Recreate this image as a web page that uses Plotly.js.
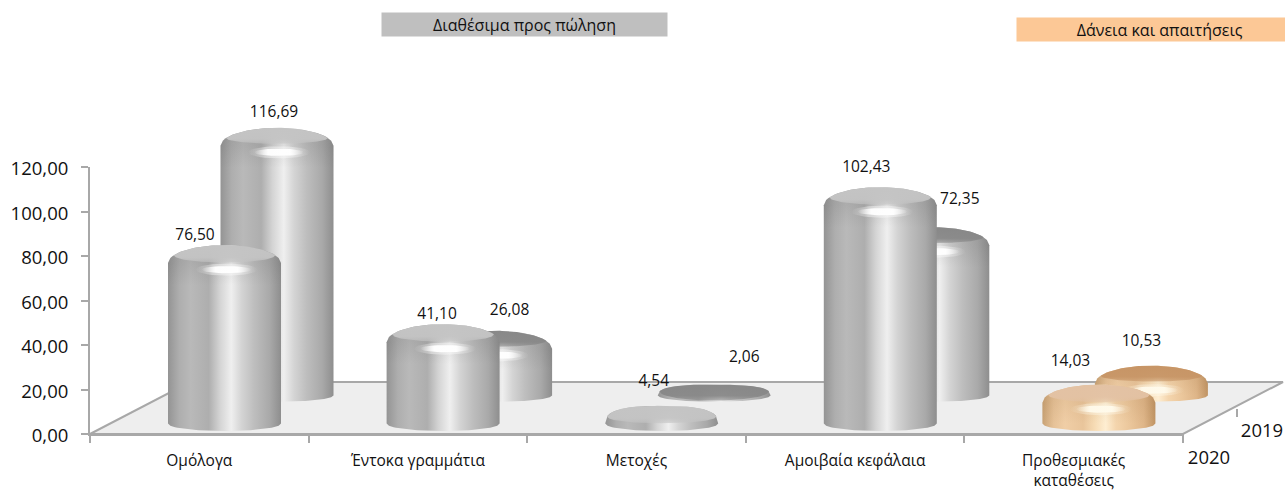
<!DOCTYPE html>
<html><head><meta charset="utf-8">
<script src="https://cdn.plot.ly/plotly-3.0.1.min.js"></script>
<style>html,body{margin:0;padding:0;background:#fff}#c{width:1285px;height:490px}</style>
</head><body><div id="c"></div>
<script>
// ---- data ----
const categories = ['Ομόλογα','Έντοκα γραμμάτια','Μετοχές','Αμοιβαία κεφάλαια','Προθεσμιακές<br>καταθέσεις'];
const values2020 = [76.50, 41.10, 4.54, 102.43, 14.03];
const values2019 = [116.69, 26.08, 2.06, 72.35, 10.53];
const yTicks = [0,20,40,60,80,100,120];
const groupTitles = ['Διαθέσιμα προς πώληση','Δάνεια και απαιτήσεις'];
const depthLabels = ['2020','2019'];

// ---- label nudges, px relative to column top ----
const nudge2020 = [[-29.5,-9],[-6,-9],[-8,-24],[-14,-19],[-28.5,-23]];
const nudge2019 = [[-3,-15],[14,-20],[30,-26],[27,-27],[-10,-23]];

// ---- frame geometry (px on the 1285x490 page) ----
const W=1285,H=490, L=90,R=1183, Y0=434,Y120=167;
const catPx=(R-L)/5, valPx=(Y0-Y120)/120;
const ux=p=>(p-L)/catPx, uy=p=>(Y0-p)/valPx;   // page px -> data units of the overlay axes

const halfW=56.5;
const rows={
  front:{dx:25.2, base:423.5, b:7.5, faceH:17.5, scale:2.234/valPx, nudge:nudge2020, values:values2020},
  back :{dx:77.7, base:395.5, b:6.3, faceH:16,   scale:2.24/valPx,  nudge:nudge2019, values:values2019}
};
const greyBody=[[0,'#949494'],[.1,'#aeaeae'],[.2,'#b9b9b9'],[.36,'#aeaeae'],[.46,'#d4d4d4'],[.56,'#efefef'],[.65,'#d4d4d4'],[.76,'#bebebe'],[.9,'#a9a9a9'],[1,'#8e8e8e']];
const orangeBody=[[0,'#c8a275'],[.1,'#e6c298'],[.2,'#f0cea6'],[.36,'#e9c59b'],[.46,'#f6dbb4'],[.56,'#feeed2'],[.65,'#f4d5ad'],[.76,'#ecc89d'],[.9,'#deb588'],[1,'#c09464']];
function faceColor(row,i){
  if(i===4) return row==='front'?'227,194,164':'199,149,102';
  if(row==='back' && i>0) return '136,136,136';
  return '196,196,196';
}
const glow=(c,a)=>[[0,`rgba(${c},0)`],[.28,`rgba(${c},${a})`],[.72,`rgba(${c},${a})`],[1,`rgba(${c},0)`]];

const traces=[];
const G={xaxis:'x2',yaxis:'y2',hoverinfo:'skip',showlegend:false};

// axes carrier
traces.push({x:categories,y:categories.map(()=>0),type:'scatter',mode:'lines',line:{width:0},hoverinfo:'skip',showlegend:false,xaxis:'x',yaxis:'y'});

// floor
const floorPx=[[L,Y0],[R,Y0],[1283,382],[190,382],[L,Y0]];
traces.push({...G,type:'scatter',mode:'lines',x:floorPx.map(p=>ux(p[0])),y:floorPx.map(p=>uy(p[1])),fill:'toself',fillcolor:'#eeeeee',line:{color:'#a8a8a8',width:2}});
// depth ticks
const depthTicks=[[[1183,434],[1183,442]],[[1237,409],[1237,417]]];
depthTicks.forEach(t=>traces.push({...G,type:'scatter',mode:'lines',x:t.map(p=>ux(p[0])),y:t.map(p=>uy(p[1])),line:{color:'#a8a8a8',width:2}}));

function column(rowName,i){
  const r=rows[rowName], v=r.values[i];
  const cx=L+(i+.5)*catPx+r.dx;
  const top=r.base-r.b-v*r.scale*valPx;
  const base=r.base;
  const isDisc=(base-top)<=24;
  const edge=Math.min(top+18,base);
  const h=edge-top;
  const n=isDisc?2.7:2;
  const sil=x=>edge-h*Math.pow(Math.max(0,1-Math.pow(Math.abs(x)/halfW,n)),1/n);
  const N=48, xs=[],ys=[];
  for(let k=0;k<=N;k++){const x=-halfW+2*halfW*k/N; xs.push(cx+x); ys.push(sil(x));}
  for(let k=0;k<=N;k++){const x=halfW-2*halfW*k/N; xs.push(cx+x); ys.push(base+r.b*Math.sqrt(Math.max(0,1-(x/halfW)*(x/halfW))));}
  const body=i===4?orangeBody:greyBody;
  traces.push({...G,type:'scatter',mode:'lines',line:{width:0},x:xs.map(ux),y:ys.map(uy),fill:'toself',fillcolor:'#aaa',
    fillgradient:{type:'horizontal',colorscale:body}});
  // shoulder shading under the face
  if(!isDisc){
    const low=Math.min(top+40,base);
    const sx=[],sy=[];
    for(let k=0;k<=N;k++){const x=-halfW+2*halfW*k/N; sx.push(cx+x); sy.push(sil(x));}
    sx.push(cx+halfW,cx-halfW,cx-halfW); sy.push(low,low,sil(-halfW));
    const dark=i===4?'130,85,40':'80,80,80';
    const amax=i===4?0.12:0.16;
    traces.push({...G,type:'scatter',mode:'lines',line:{width:0},x:sx.map(ux),y:sy.map(uy),fill:'toself',fillcolor:'rgba(0,0,0,0.1)',
      fillgradient:{type:'vertical',colorscale:[[0,`rgba(${dark},0)`],[.55,`rgba(${dark},${amax*.7})`],[1,`rgba(${dark},${amax})`]]}});
  }
  // flat top face, fading softly into the shoulder
  const A=halfW*(isDisc?.97:.9), fH=r.faceH;
  const fx=[],fy=[];
  const e=sil(A)-top;
  for(let k=0;k<=N;k++){const x=-A+2*A*k/N; fx.push(cx+x); fy.push(sil(x));}
  for(let k=0;k<=N;k++){const x=A-2*A*k/N; fx.push(cx+x); fy.push(top+e+(fH-e)*Math.sqrt(Math.max(0,1-(x/A)*(x/A))));}
  const fc=faceColor(rowName,i);
  traces.push({...G,type:'scatter',mode:'lines',line:{width:0},x:fx.map(ux),y:fy.map(uy),fill:'toself',fillcolor:`rgb(${fc})`,
    fillgradient:{type:'vertical',colorscale:[[0,`rgba(${fc},0.55)`],[.3,`rgba(${fc},0.95)`],[1,`rgba(${fc},1)`]]}});
  // highlight under the face
  if(!isDisc){
    const gc=i===4?'255,250,235':'255,255,255';
    const by=top+24.5, bx=cx+2;
    [[31,6,.4],[25,3.6,.95]].forEach(b=>{
      const hx=[],hy=[];
      for(let k=0;k<=40;k++){const a=k/40*2*Math.PI; hx.push(bx+b[0]*Math.cos(a)); hy.push(by+b[1]*Math.sin(a));}
      traces.push({...G,type:'scatter',mode:'lines',line:{width:0},x:hx.map(ux),y:hy.map(uy),fill:'toself',fillcolor:'rgba(255,255,255,0.5)',
        fillgradient:{type:'horizontal',colorscale:glow(gc,b[2])}});
    });
  }
  return {cx,top};
}

const labX=[],labY=[],labT=[];
for(let i=0;i<categories.length;i++){
  ['back','front'].forEach(row=>{
    const c=column(row,i), r=rows[row];
    labX.push(ux(c.cx+r.nudge[i][0])); labY.push(uy(c.top+r.nudge[i][1]));
    labT.push(r.values[i].toFixed(2).replace('.',','));
  });
}
traces.push({...G,type:'scatter',mode:'text',x:labX,y:labY,text:labT,textposition:'middle center',textfont:{family:'Open Sans',size:15.5,color:'#111111'}});
// depth labels
traces.push({...G,type:'scatter',mode:'text',x:[ux(1209),ux(1262)],y:[uy(459),uy(432)],text:depthLabels,textposition:'middle center',textfont:{family:'Open Sans',size:18.5,color:'#111111'}});

const px=p=>p/W, py=p=>1-p/H;
const layout={
  width:W,height:H,margin:{l:0,r:0,t:0,b:0},autosize:false,showlegend:false,
  paper_bgcolor:'#fff',plot_bgcolor:'rgba(0,0,0,0)',separators:',.',
  font:{family:'Open Sans',color:'#111111'},
  xaxis:{domain:[L/W,R/W],anchor:'y',type:'category',categoryorder:'array',categoryarray:categories,range:[-.5,4.5],
    tickson:'boundaries',ticks:'outside',ticklen:7,tickwidth:2,tickcolor:'#a8a8a8',showline:true,linecolor:'#a8a8a8',linewidth:2,showgrid:false,zeroline:false,
    ticklabelstandoff:11,tickangle:0,tickfont:{family:'Open Sans',size:15.5,color:'#111111'},fixedrange:true},
  yaxis:{domain:[(H-Y0)/H,(H-Y120)/H],anchor:'x',range:[0,120],tickmode:'array',tickvals:yTicks,tickformat:'.2f',
    ticks:'outside',ticklen:7,tickwidth:2,tickcolor:'#a8a8a8',showline:true,linecolor:'#a8a8a8',linewidth:2,showgrid:false,zeroline:false,
    ticklabelstandoff:9,ticklabelshift:2,tickfont:{family:'Open Sans',size:18.5,color:'#111111'},fixedrange:true},
  xaxis2:{domain:[0,1],anchor:'y2',range:[ux(0),ux(W)],visible:false,fixedrange:true},
  yaxis2:{domain:[0,1],anchor:'x2',range:[uy(H),uy(0)],visible:false,fixedrange:true},
  annotations:[
    {xref:'paper',yref:'paper',x:px(381),y:py(12),xanchor:'left',yanchor:'top',width:285,height:23,bgcolor:'#bfbfbf',showarrow:false,text:groupTitles[0],align:'center',font:{family:'Open Sans',size:16,color:'#111111'},borderpad:0},
    {xref:'paper',yref:'paper',x:px(1016),y:py(17),xanchor:'left',yanchor:'top',width:269,height:23,bgcolor:'#fcc896',showarrow:false,text:'&nbsp;&nbsp;&nbsp;&nbsp;'+groupTitles[1],align:'center',font:{family:'Open Sans',size:16,color:'#111111'},borderpad:0}
  ]
};
Plotly.newPlot('c',traces,layout,{displayModeBar:false,staticPlot:true});
</script></body></html>
